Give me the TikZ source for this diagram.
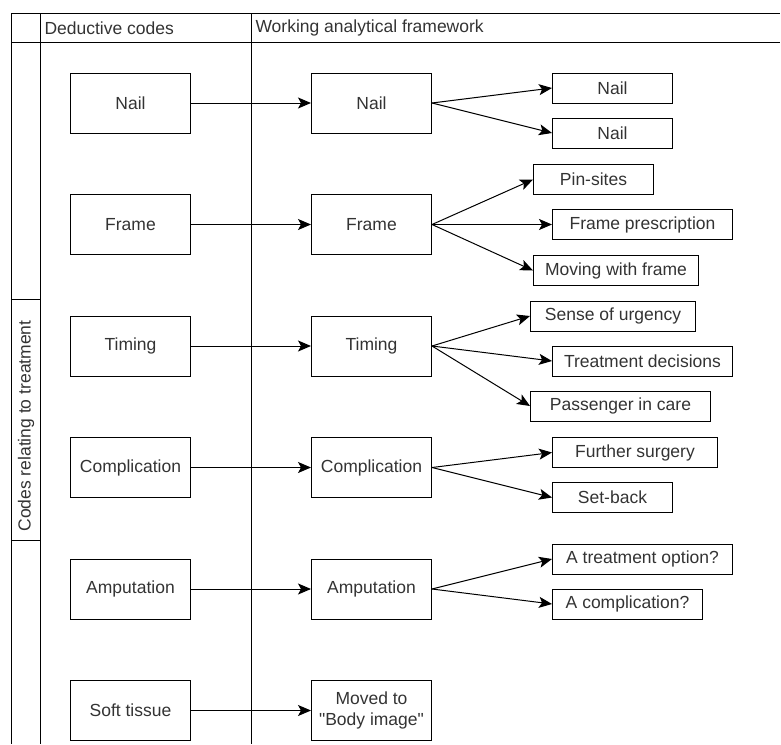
\documentclass[tikz,border=0pt]{standalone}
\usepackage{fontspec}
\setmainfont{Liberation Sans}[Ligatures=TeXOff]
\usetikzlibrary{positioning,arrows.meta}
\definecolor{txtgray}{HTML}{333333}

\begin{document}
\begin{tikzpicture}[
  x=1pt, y=-1pt,
  font=\fontsize{17.5}{21}\selectfont,
  >={Stealth[length=13pt, width=11pt, inset=3pt]},
  node distance=60.5pt and 120pt,
  line width=1pt,
  blk/.style={draw, inner sep=2pt, align=center, text=txtgray,
              minimum width=120pt, minimum height=60pt},
  sub/.style={draw, inner sep=2pt, text=txtgray, minimum height=30pt},
  hdr/.style={anchor=west, inner sep=2pt, text=txtgray},
  ar/.style={->},
]
  \useasboundingbox (0,0) rectangle (781,744);

  % table frame
  \draw (11,13) -- (780,13) (11,42) -- (780,42);
  \draw (11,13) -- (11,744) (40,13) -- (40,744) (251,13) -- (251,744);
  \draw (11,299) -- (40,299) (11,540) -- (40,540);
  \node[hdr] (hded) at (42,28) {Deductive codes};
  \node[hdr] (hwork) at (253,28) {Working analytical framework};
  \node[rotate=90, inner sep=0pt, text=txtgray] (side) at (26,426) {Codes relating to treatment};

  % deductive codes
  \node[blk] (nailL) at (130.5,103) {Nail};
  \node[blk, below=of nailL] (frameL) {Frame};
  \node[blk, below=of frameL] (timeL) {Timing};
  \node[blk, below=of timeL] (complL) {Complication};
  \node[blk, below=of complL] (amputL) {Amputation};
  \node[blk, below=of amputL] (softL) {Soft tissue};

  % working framework
  \node[blk, right=of nailL] (nailM) {Nail};
  \node[blk, right=of frameL] (frameM) {Frame};
  \node[blk, right=of timeL] (timeM) {Timing};
  \node[blk, right=of complL] (complM) {Complication};
  \node[blk, right=of amputL] (amputM) {Amputation};
  \node[blk, right=of softL] (softM) {Moved to\\"Body image"};

  \node[sub, minimum width=120pt, right=120pt of nailM, yshift=15pt] (nailA) {Nail};
  \node[sub, minimum width=120pt, right=120pt of nailM, yshift=-30pt] (nailB) {Nail};

  \node[sub, minimum width=120pt, right=101pt of frameM, yshift=45pt] (pins) {Pin-sites};
  \node[sub, minimum width=180pt, right=120pt of frameM] (presc) {Frame prescription};
  \node[sub, minimum width=165pt, right=101pt of frameM, yshift=-46pt] (moving) {Moving with frame};

  \node[sub, minimum width=165pt, right=98pt of timeM, yshift=30pt] (urgency) {Sense of urgency};
  \node[sub, minimum width=180pt, right=120pt of timeM, yshift=-15pt] (decis) {Treatment decisions};
  \node[sub, minimum width=180pt, right=98pt of timeM, yshift=-60pt] (passg) {Passenger in care};

  \node[sub, minimum width=165pt, right=120pt of complM, yshift=15pt] (surgery) {Further surgery};
  \node[sub, minimum width=120pt, right=120pt of complM, yshift=-30pt] (setback) {Set-back};

  \node[sub, minimum width=180pt, right=120pt of amputM, yshift=30pt] (option) {A treatment option?};
  \node[sub, minimum width=150pt, right=120pt of amputM, yshift=-15pt] (cmplq) {A complication?};

  % connectors
  \draw[ar] (nailL) -- (nailM);
  \draw[ar] (frameL) -- (frameM);
  \draw[ar] (timeL) -- (timeM);
  \draw[ar] (complL) -- (complM);
  \draw[ar] (amputL) -- (amputM);
  \draw[ar] (softL) -- (softM);

  \draw[ar] (nailM.east) -- (nailA.west);
  \draw[ar] (nailM.east) -- (nailB.west);
  \draw[ar] (frameM.east) -- (pins.west);
  \draw[ar] (frameM.east) -- (presc.west);
  \draw[ar] (frameM.east) -- (moving.west);
  \draw[ar] (timeM.east) -- (urgency.west);
  \draw[ar] (timeM.east) -- (decis.west);
  \draw[ar] (timeM.east) -- (passg.west);
  \draw[ar] (complM.east) -- (surgery.west);
  \draw[ar] (complM.east) -- (setback.west);
  \draw[ar] (amputM.east) -- (option.west);
  \draw[ar] (amputM.east) -- (cmplq.west);
\end{tikzpicture}
\end{document}
